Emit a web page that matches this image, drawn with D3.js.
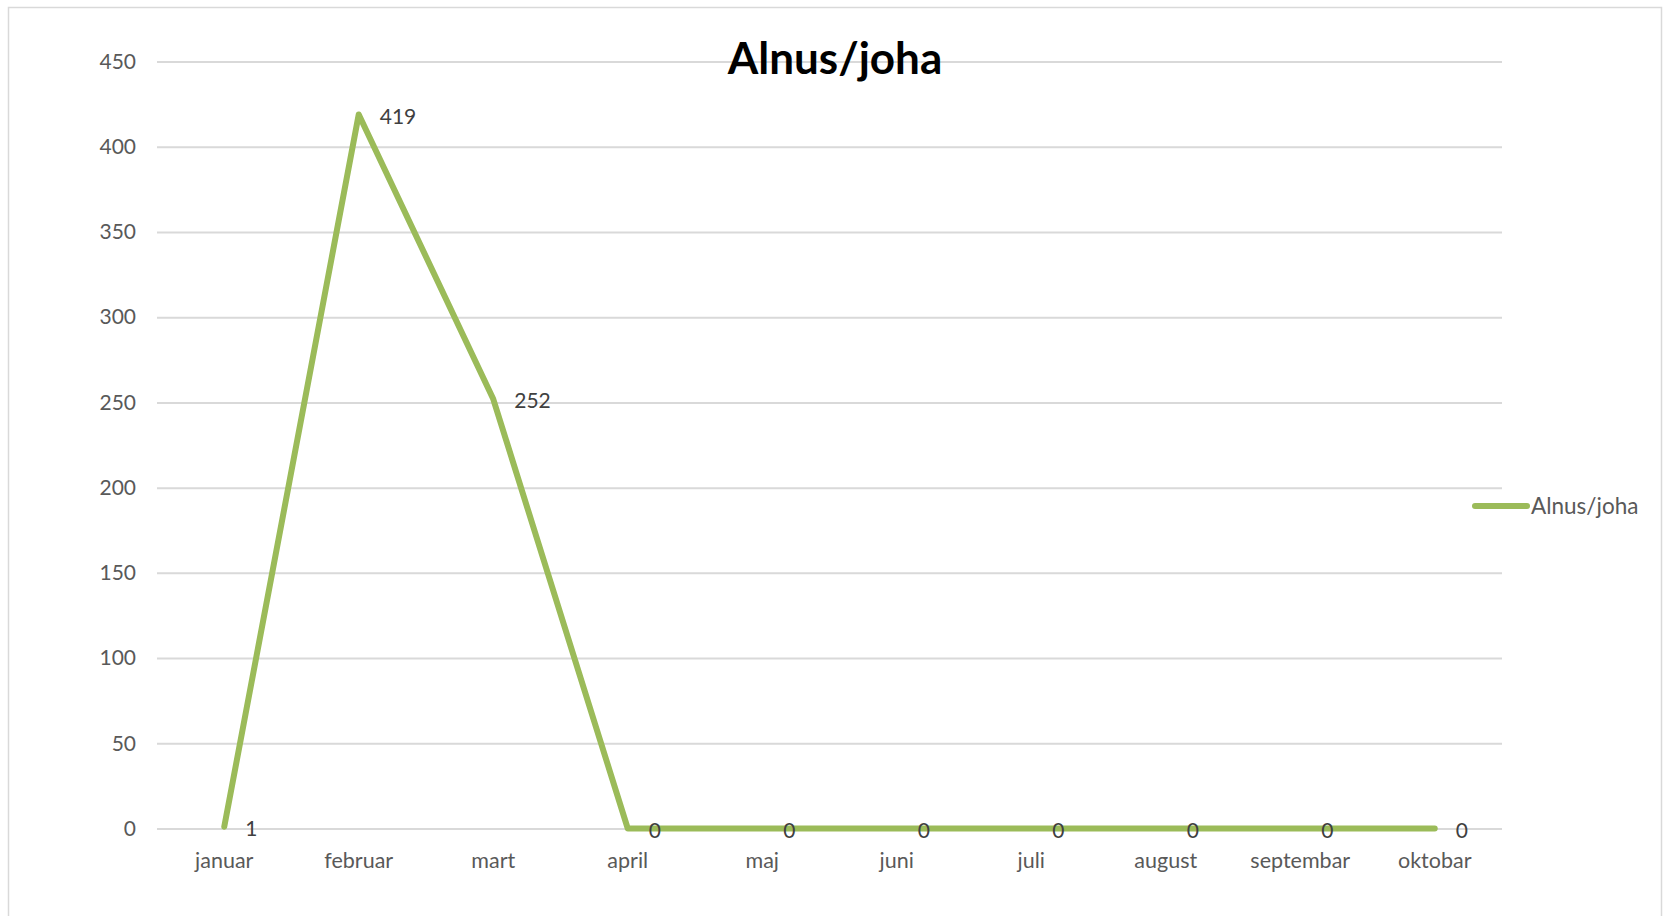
<!DOCTYPE html>
<html>
<head>
<meta charset="utf-8">
<script src="https://cdn.jsdelivr.net/npm/d3@7"></script>
<style>
  html, body { margin: 0; padding: 0; background: #fff; }
  svg { display: block; }
  text { font-family: Lato, "Open Sans", sans-serif; }
</style>
</head>
<body>
<svg id="chart" width="1665" height="916"></svg>
<script>
// Monthly Alnus (alder) pollen counts
const months = ["januar", "februar", "mart", "april", "maj", "juni", "juli", "august", "septembar", "oktobar"];
const values = [1, 419, 252, 0, 0, 0, 0, 0, 0, 0];
const yTicks = [0, 50, 100, 150, 200, 250, 300, 350, 400, 450];
const seriesName = "Alnus/joha";
const chartTitle = "Alnus/joha";

const margin = { left: 157, right: 1502, top: 61.6, bottom: 828.5 };
const lineColor = "#9BBB59";

const svg = d3.select("#chart");

// outer chart frame
svg.append("rect")
  .attr("x", 8.5).attr("y", 7.5)
  .attr("width", 1653).attr("height", 930)
  .attr("fill", "none").attr("stroke", "#d9d9d9").attr("stroke-width", 1.5);

const x = d3.scaleBand().domain(months).range([margin.left, margin.right]);
const y = d3.scaleLinear().domain([0, 450]).range([margin.bottom, margin.top]);

// horizontal gridlines + y labels
const yAxis = d3.axisLeft(y)
  .tickValues(yTicks)
  .tickSize(-(margin.right - margin.left))
  .tickPadding(21);
const gy = svg.append("g")
  .attr("transform", `translate(${margin.left},0)`)
  .call(yAxis);
gy.select(".domain").remove();
gy.selectAll(".tick line").attr("stroke", "#d9d9d9").attr("stroke-width", 2);
gy.selectAll(".tick text")
  .attr("fill", "#595959")
  .style("font-size", "21px")
  .style("font-family", "Lato, sans-serif");

// category labels
const xAxis = d3.axisBottom(x).tickSize(0).tickPadding(24);
const gx = svg.append("g")
  .attr("transform", `translate(0,${margin.bottom})`)
  .call(xAxis);
gx.select(".domain").remove();
gx.selectAll(".tick text")
  .attr("fill", "#595959")
  .style("font-size", "21.5px")
  .style("font-family", "Lato, sans-serif");

// title (drawn over the top gridline)
svg.append("text")
  .attr("x", 835).attr("y", 74)
  .attr("text-anchor", "middle")
  .attr("fill", "#000")
  .style("font-size", "44px")
  .style("font-weight", "bold")
  .text(chartTitle);

// series line
const data = months.map((m, i) => ({ m, v: values[i] }));
const line = d3.line()
  .x(d => x(d.m) + x.bandwidth() / 2)
  .y(d => y(d.v));
svg.append("path")
  .datum(data)
  .attr("d", line)
  .attr("fill", "none")
  .attr("stroke", lineColor)
  .attr("stroke-width", 6)
  .attr("stroke-linejoin", "round")
  .attr("stroke-linecap", "round");

// data labels to the right of each point
svg.append("g").selectAll("text")
  .data(data)
  .join("text")
  .attr("x", d => x(d.m) + x.bandwidth() / 2 + 21)
  .attr("y", d => y(d.v) + 2)
  .attr("dy", "0.35em")
  .attr("fill", "#404040")
  .style("font-size", "21px")
  .text(d => d.v);

// legend
const lg = svg.append("g");
lg.append("line")
  .attr("x1", 1475).attr("x2", 1527)
  .attr("y1", 506).attr("y2", 506)
  .attr("stroke", lineColor).attr("stroke-width", 6)
  .attr("stroke-linecap", "round");
lg.append("text")
  .attr("x", 1531).attr("y", 506)
  .attr("dy", "0.35em")
  .attr("fill", "#595959")
  .style("font-size", "22.5px")
  .text(seriesName);
</script>
</body>
</html>
